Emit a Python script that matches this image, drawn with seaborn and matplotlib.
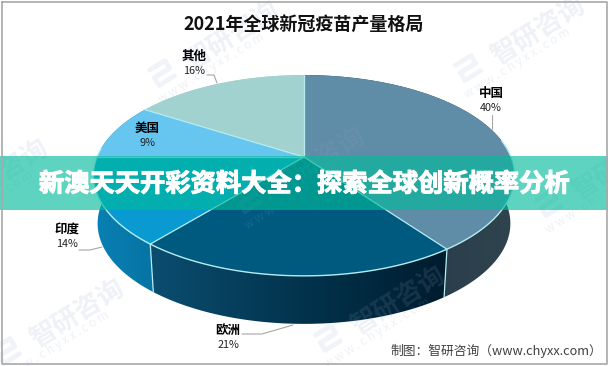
"""
2021 global covid vaccine output, drawn as a tilted 3D pie.
"""
import numpy as np
import seaborn as sns
import matplotlib.pyplot as plt
import matplotlib.patheffects as pe
from matplotlib.patches import Polygon

# data
regions = ["中国", "欧洲", "印度", "美国", "其他"]
shares = [40, 21, 14, 9, 16]
title = "2021年全球新冠疫苗产量格局"
banner = "新澳天天开彩资料大全：探索全球创新概率分析"
source = "制图：智研咨询（www.chyxx.com）"

# colours
top_colors = ["#5f8ca6", "#005a80", "#0a9ad2", "#66c6f0", "#a2d2d0"]
wall_colors = [
    ["#1f3645", "#30444f"],
    ["#0b4d70", "#02344e", "#001c2e"],
    ["#0a80b4", "#0674a4"],
    ["#0a80b4", "#0a80b4"],
    ["#a2d2d0", "#a2d2d0"],
]
edge_color = "#b4ecf0"
mark_color = "#8fa3c4"

# label layout, pixels
label_pos = [(491, 93), (228, 330), (67, 229), (147, 128), (194, 56)]
leaders = [
    [(492, 115), (492, 129)],
    [(242, 334), (262, 334), (293, 325)],
    [(79, 250), (90, 250), (102, 247)],
    None,
    [(207, 75), (214, 75), (217, 83)],
]
watermarks = [(188, 65), (494, 60), (-43, 203), (274, 191), (33, 343), (354, 330), (575, 195)]

sns.set_theme(style="white")
plt.rcParams["font.family"] = ["Noto Sans CJK SC", "DejaVu Sans"]

fig, ax = plt.subplots(figsize=(6.08, 3.66), dpi=100)
ax.set_position([0, 0, 1, 1])


def project(theta, lower=False):
    # degrees clockwise from 12 o'clock, perspective view of a flat disc
    rad = np.radians(theta)
    den = 1 + 0.184 * np.cos(rad)
    x = 207 * np.sin(rad) / den
    y = -97 * np.cos(rad) / den
    if lower:
        return 304 + 0.98 * x, 157 + y + 48
    return 304 + x, 157 + y


bounds = np.concatenate([[0], np.cumsum(shares)]) * 3.6

# side walls first, the top disc covers whatever is hidden
for i, colors in enumerate(wall_colors):
    thetas = np.linspace(bounds[i], bounds[i + 1], 80)
    x_up, y_up = project(thetas)
    x_low, y_low = project(thetas, lower=True)
    px = np.r_[x_up, x_low[::-1]]
    py = np.r_[y_up, y_low[::-1]]
    wall = Polygon(np.c_[px, py], closed=True, facecolor="none", edgecolor="none", transform=ax.transData)
    ax.add_patch(wall)
    cmap = sns.blend_palette(colors, n_colors=128, as_cmap=True)
    img = ax.imshow(np.linspace(0, 1, 128)[None, :], cmap=cmap, aspect="auto", zorder=2,
                    extent=[px.min(), px.max(), py.max(), py.min()])
    img.set_clip_path(wall)

ax.set_xlim(0, 608)
ax.set_ylim(366, 0)
ax.axis("off")

# wall seams
for t in [bounds[1], bounds[2]]:
    ax.plot(*zip(project(t), project(t, lower=True)), color=edge_color, lw=0.9, zorder=3)

# top disc
for i, col in enumerate(top_colors):
    thetas = np.linspace(bounds[i], bounds[i + 1], 80)
    x, y = project(thetas)
    ax.fill(np.r_[304, x], np.r_[157, y], color=col, lw=0, zorder=4)
    ax.plot([304, x[0]], [157, y[0]], color=edge_color, lw=0.9, zorder=5)

# bright rim along the front
x, y = project(np.linspace(80, 275, 200))
ax.plot(x, y, color=edge_color, lw=1.0, zorder=5)

# labels
for name, share, (lx, ly), line in zip(regions, shares, label_pos, leaders):
    ax.text(lx, ly, name, ha="center", va="center", fontsize=9, fontweight="bold", color="black", zorder=8)
    ax.text(lx, ly + 15, f"{share}%", ha="center", va="center", fontsize=7.8, color="#222222", zorder=8)
    if line is not None:
        ax.plot(*zip(*line), color="#a6a6a6", lw=0.8, zorder=6)

ax.text(304, 24, title, ha="center", va="center", fontsize=13, fontweight="bold", color="#111111", zorder=8)
ax.text(602, 351, source, ha="right", va="center", fontsize=9.2, color="#404040", zorder=8)

# watermarks sit over the pie
angle = np.radians(32)
for wx, wy in watermarks:
    ax.text(wx, wy, "智研咨询", rotation=32, rotation_mode="anchor", ha="left", va="center", clip_on=True,
            fontsize=19, fontweight="bold", color=mark_color, alpha=0.15, zorder=7)
    ax.text(wx - 28, wy + 35, "w w w . c h y x x . c o m", rotation=32, rotation_mode="anchor", ha="left",
            va="center", clip_on=True, fontsize=8.5, color=mark_color, alpha=0.15, zorder=7)
    # small logo in front of the name
    lx, ly = wx - 26, wy + 8
    along = np.array([-9, 9, 9, -9, -9, 9])
    across = np.array([-9, -9, 0, 0, 9, 9])
    ax.plot(lx + along * np.cos(angle) + across * np.sin(angle),
            ly - along * np.sin(angle) + across * np.cos(angle),
            color=mark_color, lw=3.5, alpha=0.13, zorder=7)

# promo band across the middle
ax.axhspan(156, 210, color="#00bb9b", alpha=0.63, lw=0, zorder=9)
ax.text(304, 184, banner, ha="center", va="center", fontsize=18.2, fontweight="bold", color="white", zorder=10,
        path_effects=[pe.withStroke(linewidth=0.8, foreground="white")])

# thin image frame
ax.plot([1.5, 606.5, 606.5, 1.5, 1.5], [1.5, 1.5, 364, 364, 1.5], color="#a8a8a8", lw=1.2, zorder=11)

fig.savefig("out.png", dpi=100, facecolor="white")
